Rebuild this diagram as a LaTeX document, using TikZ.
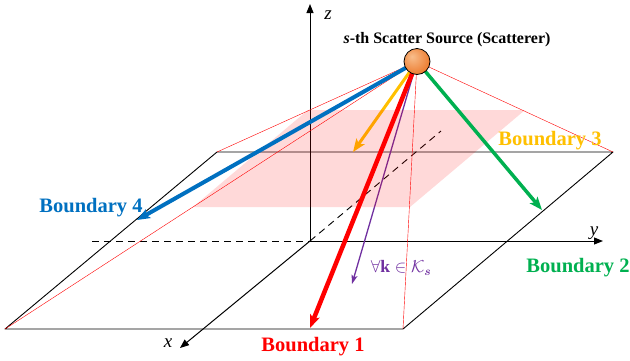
\documentclass[tikz,border=0pt]{standalone}
\usepackage{amsmath}
\usepackage{fontspec}
\setmainfont{Liberation Serif}
\usetikzlibrary{arrows.meta}
\definecolor{bblue}{RGB}{0,112,192}
\definecolor{bred}{RGB}{255,0,0}
\definecolor{bgreen}{RGB}{0,176,80}
\definecolor{bgold}{RGB}{255,192,0}
\definecolor{bpurple}{RGB}{112,48,160}
\definecolor{ballorange}{RGB}{237,125,49}
\definecolor{balllight}{RGB}{248,190,140}
\definecolor{balldark}{RGB}{197,90,17}
\pgfdeclareradialshading{orangeball}{\pgfpoint{-10bp}{10bp}}{color(0bp)=(balllight); color(12bp)=(balllight!60!ballorange); color(30bp)=(ballorange); color(50bp)=(balldark); color(60bp)=(balldark)}
\begin{document}
\begin{tikzpicture}[x=1pt,y=-1pt,
  floor/.style={black, line width=0.9pt, line join=round},
  axisline/.style={black, line width=1pt, -{Triangle[length=9pt,width=7pt]}},
  backdash/.style={black, line width=0.9pt, dash pattern=on 7pt off 5pt},
  guide/.style={red, line width=0.4pt},
  ray/.style={line width=#1, -{Stealth[length=13pt,width=10pt,inset=3pt]}},
  blabel/.style={font=\fontsize{20.5}{24}\selectfont\bfseries, inner sep=0pt},
  axlabel/.style={font=\fontsize{19}{20}\selectfont\itshape, inner sep=0pt}]
\useasboundingbox (0,0) rectangle (630,360);
% coordinates
\coordinate (S) at (417,61.5);
\coordinate (F1) at (5,329);
\coordinate (F2) at (403,329);
\coordinate (F3) at (613,152);
\coordinate (F4) at (217,152);
\coordinate (O) at (310,241);
\coordinate (Xend) at (180,348);
\coordinate (Yend) at (603,241);
\coordinate (Zend) at (310,4);
\coordinate (Xback) at (441,131);
\coordinate (Yback) at (92,241);
\coordinate (P1) at (193,207);
\coordinate (P2) at (410,207);
\coordinate (P3) at (525,110);
\coordinate (P4) at (308,110);
\coordinate (B4) at (137,220);
\coordinate (B3) at (353,152);
\coordinate (B1) at (310,328);
\coordinate (K) at (352,284);
\coordinate (B2) at (542,210);
% floor
\draw[floor] (F1) -- (F2) -- (F3) -- (F4) -- cycle;
% axes
\draw[backdash] (Yback) -- (O);
\draw[backdash] (O) -- (Xback);
\draw[axisline] (O) -- (Zend);
\draw[axisline] (O) -- (Yend);
\draw[axisline] (O) -- (Xend);
% guide pyramid
\draw[guide] (S) -- (F1);
\draw[guide] (S) -- (F2);
\draw[guide] (S) -- (F3);
\draw[guide] (S) -- (F4);
% rays under the plane
\draw[ray=3pt, bgold] (S) -- (B3);
\draw[bpurple, line width=1.3pt, -{Stealth[length=9pt,width=6pt,inset=2pt]}] (S) -- (K);
% pink plane
\fill[red, opacity=0.15] (P1) -- (P2) -- (P3) -- (P4) -- cycle;
% rays over the plane
\draw[ray=4pt, bblue] (S) -- (B4);
\draw[ray=4.5pt, bred] (S) -- (B1);
\draw[ray=3.5pt, bgreen] (S) -- (B2);
% source
\node[circle, minimum size=26pt, draw=black, line width=0.8pt, shading=orangeball] (src) at (S) {};
% labels
\node[font=\fontsize{16}{18}\selectfont\bfseries, inner sep=0pt] (title) at (447,40) {\textit{s}-th Scatter Source (Scatterer)};
\node[blabel, text=bblue] (l4) at (91,208) {Boundary 4};
\node[blabel, text=bgold] (l3) at (550,141) {Boundary 3};
\node[blabel, text=bgreen] (l2) at (578,268) {Boundary 2};
\node[blabel, text=bred] (l1) at (313,347) {Boundary 1};
\node[text=bpurple, font=\fontsize{17.5}{20}\selectfont, inner sep=0pt] (kset) at (401,268) {$\forall\mathbf{k}\in\mathcal{K}_{\boldsymbol{s}}$};
\node[axlabel] (zl) at (328,15) {z};
\node[axlabel] (yl) at (594,233) {y};
\node[axlabel] (xl) at (168,343) {x};
\end{tikzpicture}
\end{document}
